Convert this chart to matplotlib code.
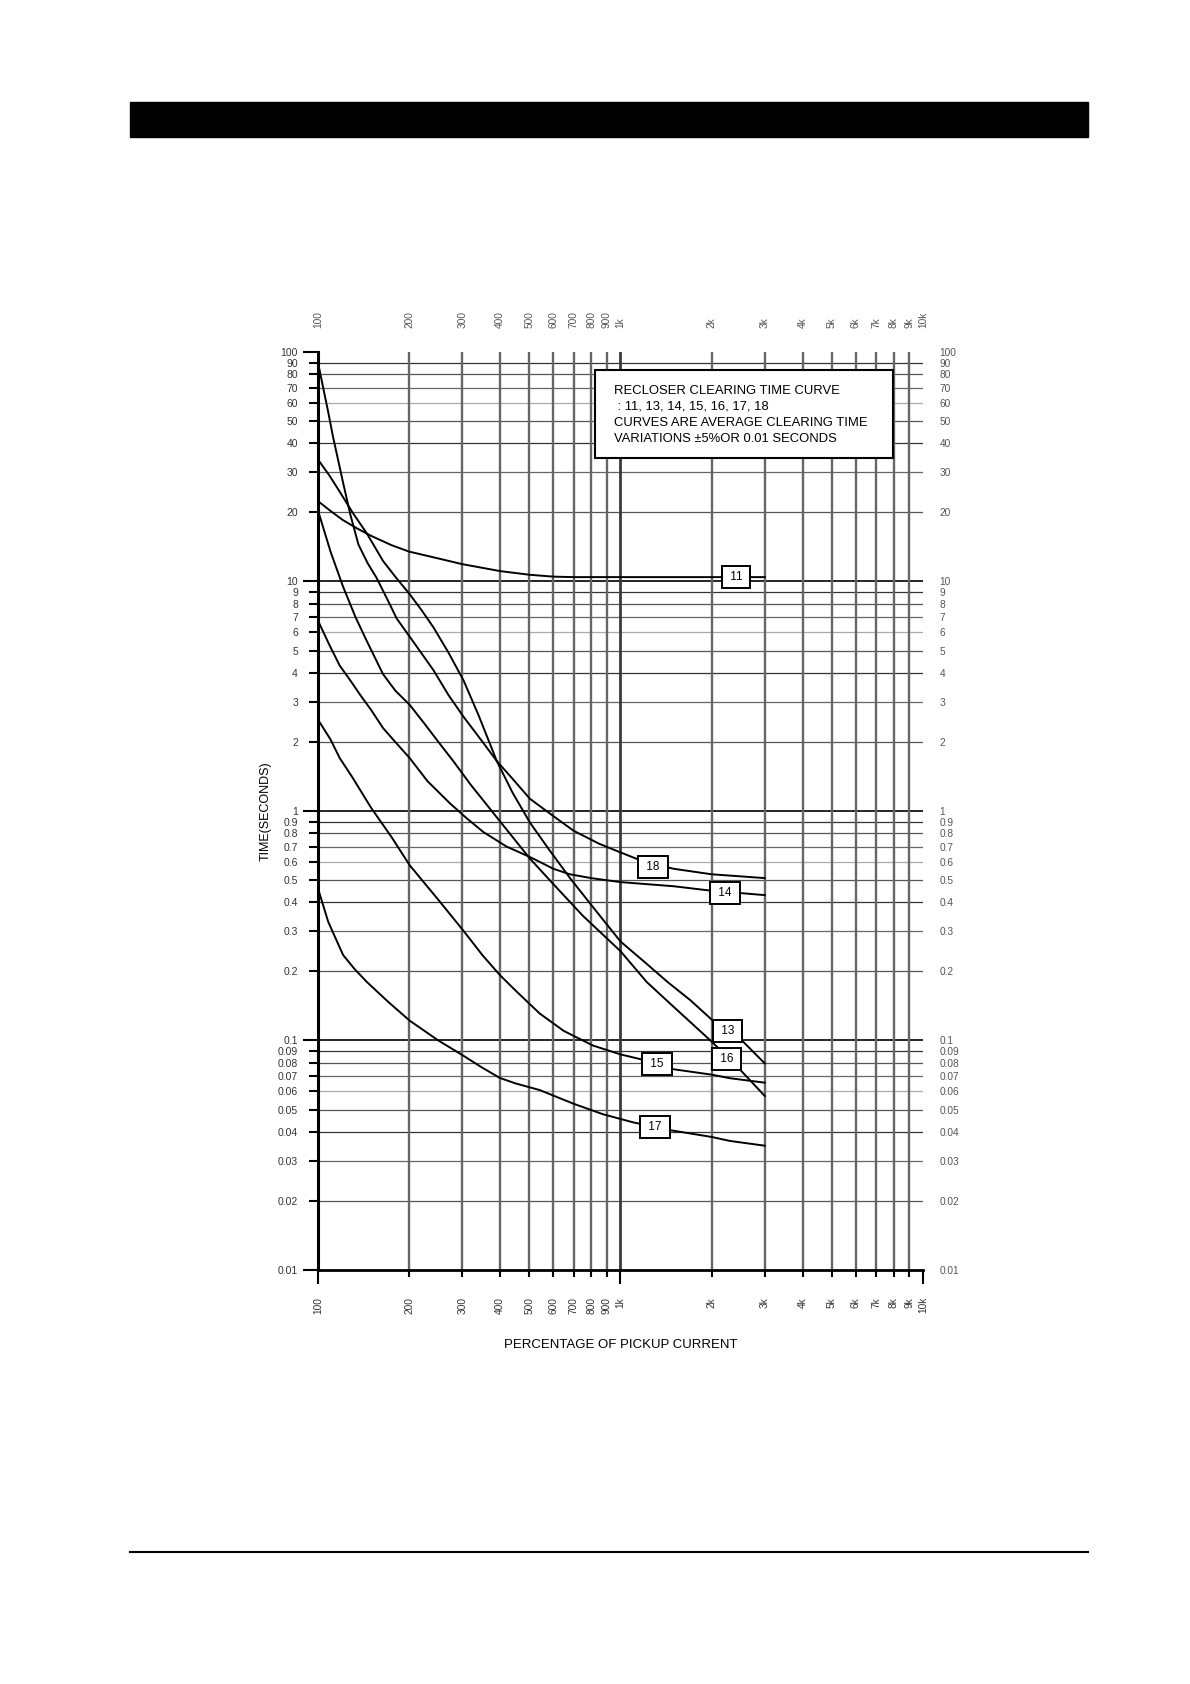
import numpy as np
import matplotlib.pyplot as plt
from matplotlib.patches import Rectangle
from matplotlib.lines import Line2D

plt.rcParams['font.family'] = ['Liberation Sans', 'DejaVu Sans']

# axis ticks (percent of pickup current / seconds)
x_major_labels = ['100', '1k', '10k']
x_major = [100, 1000, 10000]
x_minor_labels = ['200', '300', '400', '500', '600', '700', '800', '900',
                  '2k', '3k', '4k', '5k', '6k', '7k', '8k', '9k']
x_minor = [200, 300, 400, 500, 600, 700, 800, 900,
           2000, 3000, 4000, 5000, 6000, 7000, 8000, 9000]

y_major_labels = ['0.01', '0.1', '1', '10', '100']
y_minor_labels = ['0.02', '0.03', '0.04', '0.05', '0.06', '0.07', '0.08', '0.09',
                  '0.2', '0.3', '0.4', '0.5', '0.6', '0.7', '0.8', '0.9',
                  '2', '3', '4', '5', '6', '7', '8', '9',
                  '20', '30', '40', '50', '60', '70', '80', '90']
y_major = [float(s) for s in y_major_labels]
y_minor = [float(s) for s in y_minor_labels]

# curves (x = % pickup, y = seconds)
c11_x = [100, 110, 121, 135, 150, 175, 200, 250, 300, 400, 500, 600, 700, 1000, 2000, 3000]
c11_y = [22.4, 20.3, 18.5, 17.0, 15.8, 14.4, 13.5, 12.6, 11.9, 11.1, 10.7, 10.5, 10.45, 10.45, 10.45, 10.45]

c18_x = [100, 104, 108, 112, 121, 128, 136, 146, 156, 170, 182, 210, 241, 270, 303, 350, 390,
         440, 502, 600, 700, 850, 1000, 1200, 1500, 2000, 3000]
c18_y = [90, 70, 55, 43, 27, 19.5, 14.5, 12, 10.4, 8.3, 6.9, 5.3, 4.1, 3.2, 2.57, 2.0, 1.65,
         1.38, 1.13, 0.95, 0.82, 0.72, 0.66, 0.6, 0.56, 0.53, 0.51]

c13_x = [100, 109, 118, 130, 145, 164, 180, 201, 220, 241, 270, 303, 340, 390, 440, 502,
         580, 681, 800, 1000, 1200, 1430, 1700, 2020, 2540, 3000]
c13_y = [34, 29, 24.6, 20, 16.2, 12.3, 10.5, 8.8, 7.5, 6.3, 4.9, 3.7, 2.6, 1.65, 1.2, 0.89,
         0.68, 0.51, 0.39, 0.27, 0.22, 0.18, 0.15, 0.122, 0.099, 0.0794]

c16_x = [100, 110, 121, 133, 145, 164, 180, 201, 225, 250, 280, 320, 400, 502, 600, 750,
         1000, 1220, 1500, 2000, 2430, 3000]
c16_y = [20.4, 13.5, 9.5, 7.0, 5.5, 3.95, 3.35, 2.9, 2.4, 2.0, 1.65, 1.3, 0.9, 0.62, 0.48, 0.35,
         0.245, 0.18, 0.14, 0.099, 0.077, 0.0573]

c14_x = [100, 109, 118, 128, 138, 150, 164, 180, 201, 230, 273, 310, 352, 420, 502, 541,
         600, 680, 800, 1000, 1500, 1980, 3000]
c14_y = [6.75, 5.3, 4.3, 3.7, 3.2, 2.75, 2.3, 2.0, 1.7, 1.35, 1.08, 0.93, 0.81, 0.7, 0.63, 0.6,
         0.56, 0.53, 0.51, 0.49, 0.47, 0.45, 0.43]

c15_x = [100, 110, 118, 130, 150, 175, 201, 250, 303, 350, 399, 450, 541, 650, 812, 1000,
         1160, 1490, 2000, 2300, 3000]
c15_y = [2.5, 2.05, 1.7, 1.4, 1.03, 0.77, 0.58, 0.41, 0.30, 0.235, 0.193, 0.165, 0.131, 0.11,
         0.095, 0.087, 0.083, 0.075, 0.071, 0.0685, 0.0655]

c17_x = [100, 108, 121, 132, 145, 170, 201, 250, 303, 350, 399, 450, 541, 700, 876, 1100,
         1470, 2000, 2300, 3000]
c17_y = [0.46, 0.33, 0.236, 0.205, 0.18, 0.148, 0.122, 0.1, 0.0857, 0.076, 0.0687, 0.065,
         0.0608, 0.053, 0.0477, 0.044, 0.0406, 0.038, 0.0365, 0.0348]

# curve name tags and where they sit
tag_names = ['11', '18', '14', '13', '16', '15', '17']
tag_x = [2410, 1280, 2220, 2260, 2240, 1320, 1300]
tag_y = [10.5, 0.57, 0.44, 0.11, 0.083, 0.079, 0.042]

note_lines = ['RECLOSER CLEARING TIME CURVE',
              ' : 11, 13, 14, 15, 16, 17, 18',
              'CURVES ARE AVERAGE CLEARING TIME',
              'VARIATIONS \u00b15%OR 0.01 SECONDS']

W, H = 1190, 1684
fig = plt.figure(figsize=(W / 100, H / 100), dpi=100)

# page decoration: black header bar and footer rule
fig.add_artist(Rectangle((130 / W, 1 - 137 / H), (1088 - 130) / W, 35 / H,
                         transform=fig.transFigure, color='black'))
fig.add_artist(Line2D([130 / W, 1088 / W], [1 - 1552 / H, 1 - 1552 / H],
                      transform=fig.transFigure, color='black', lw=1.5))

L, R, T, B = 318, 923, 352, 1270
ax = fig.add_axes([L / W, 1 - B / H, (R - L) / W, (B - T) / H])
ax.set_xscale('log')
ax.set_yscale('log')
ax.set_xlim(100, 10000)
ax.set_ylim(0.01, 100)

for s in ['top', 'right']:
    ax.spines[s].set_visible(False)
ax.spines['left'].set_linewidth(2.2)
ax.spines['bottom'].set_linewidth(2.0)

# grid lines
shade = {'9': '#333333', '8': '#555555', '7': '#666666', '6': '#aaaaaa',
         '5': '#555555', '4': '#333333', '3': '#666666', '2': '#555555'}
for lab, v in zip(y_minor_labels, y_minor):
    ax.axhline(v, color=shade[lab.replace('0', '').replace('.', '')], lw=0.9, zorder=1)
for v in [10, 1, 0.1]:
    ax.axhline(v, color='black', lw=1.2, zorder=1)
for lab, v in zip(x_minor_labels, x_minor):
    ax.axvline(v, color='#666666', lw=1.7, zorder=1)
ax.axvline(1000, color='#3a3a3a', lw=2.0, zorder=1)

# ticks bottom / left
ax.set_xticks(x_major, x_major_labels)
ax.set_xticks(x_minor, x_minor_labels, minor=True)
ax.tick_params(axis='x', which='major', length=10, width=1.5, pad=9.4,
               labelrotation=90, labelsize=7.3, labelcolor='#333333')
ax.tick_params(axis='x', which='minor', length=5, width=1.5, pad=14.4,
               labelrotation=90, labelsize=7.3, labelcolor='#333333')
ax.set_yticks(y_major, y_major_labels)
ax.set_yticks(y_minor, y_minor_labels, minor=True)
ax.tick_params(axis='y', which='major', length=10.8, width=1.5, pad=3.6,
               labelsize=7.5, labelcolor='#333333')
ax.tick_params(axis='y', which='minor', length=6.5, width=1.5, pad=7.9,
               labelsize=7.5, labelcolor='#333333')

# labels repeated on top and right
ax_top = ax.twiny()
ax_top.set_xscale('log')
ax_top.set_xlim(100, 10000)
ax_top.set_xticks(x_major, x_major_labels)
ax_top.set_xticks(x_minor, x_minor_labels, minor=True)
ax_top.tick_params(axis='x', which='both', length=0, pad=17, labelrotation=90,
                   labelsize=7.3, labelcolor='#555555')
ax_r = ax.twinx()
ax_r.set_yscale('log')
ax_r.set_ylim(0.01, 100)
ax_r.set_yticks(y_major, y_major_labels)
ax_r.set_yticks(y_minor, y_minor_labels, minor=True)
ax_r.tick_params(axis='y', which='both', length=0, pad=12, labelsize=7.3,
                 labelcolor='#555555')
for a in (ax_top, ax_r):
    for s in a.spines.values():
        s.set_visible(False)

# curves
curves = [(c11_x, c11_y), (c18_x, c18_y), (c13_x, c13_y), (c16_x, c16_y),
          (c14_x, c14_y), (c15_x, c15_y), (c17_x, c17_y)]
for cx, cy in curves:
    ax.plot(cx, cy, color='black', lw=1.4, zorder=3)

for name, tx, ty in zip(tag_names, tag_x, tag_y):
    ax.text(tx, ty, ' ' + name + ' ', ha='center', va='center', fontsize=8.5, zorder=5,
            bbox=dict(boxstyle='square,pad=0.42', fc='white', ec='black', lw=1.4))

ax.set_xlabel('PERCENTAGE OF PICKUP CURRENT', fontsize=9.5)
ax.xaxis.set_label_coords(0.5, -(1339 - B) / (B - T))
ax.set_ylabel('TIME(SECONDS)', fontsize=9)
ax.yaxis.set_label_coords((272 - L) / (R - L), 0.5)

# note box
x0 = (595 - L) / (R - L)
x1 = (893 - L) / (R - L)
y0 = 1 - (458 - T) / (B - T)
y1 = 1 - (370 - T) / (B - T)
ax.add_patch(Rectangle((x0, y0), x1 - x0, y1 - y0, transform=ax.transAxes,
                       fc='white', ec='black', lw=1.5, zorder=6))
for i, line in enumerate(note_lines):
    yy = 1 - (391 + 16 * i - T) / (B - T)
    ax.text((614 - L) / (R - L), yy, line, transform=ax.transAxes, fontsize=9.4,
            ha='left', va='center', zorder=7)

fig.savefig('out.png', dpi=100)
